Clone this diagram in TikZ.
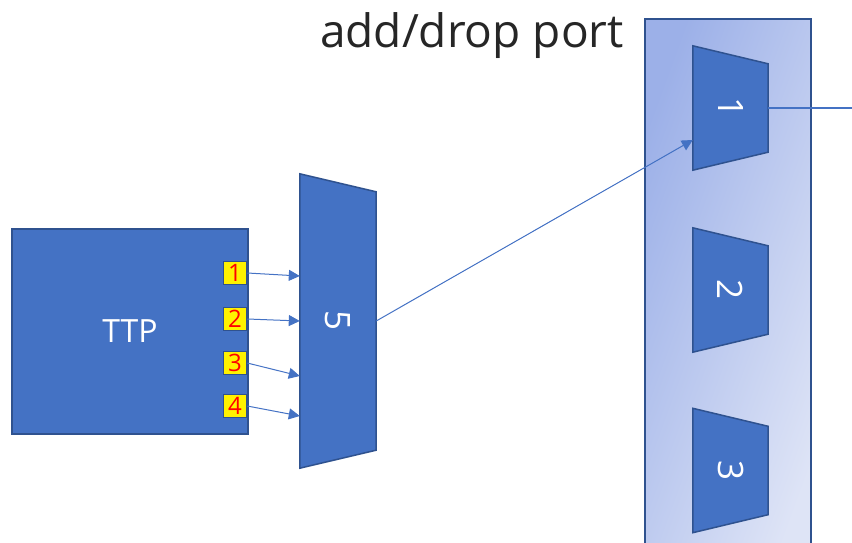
\documentclass[tikz,border=0pt]{standalone}
\usepackage{graphicx,fontspec}
\setmainfont{Open Sans}
\usetikzlibrary{arrows.meta,backgrounds}
\definecolor{boxblue}{HTML}{4472C4}
\definecolor{edgeblue}{HTML}{2F528F}
\definecolor{panlo}{HTML}{9CB0E8}
\definecolor{panhi}{HTML}{DEE4F6}
\definecolor{titlegray}{HTML}{262626}
\begin{document}
\begin{tikzpicture}[x=1pt,y=-1pt,
  blk/.style={fill=boxblue,draw=edgeblue,line width=1.5pt},
  muxbody/.style={inner sep=0pt,text=white,font=\fontsize{35}{35}\selectfont},
  portbox/.style={fill=yellow,draw=edgeblue,line width=1.5pt,minimum size=23pt,inner sep=0pt,text=red,font=\fontsize{24}{24}\selectfont},
  link/.style={boxblue,line width=1pt,-{Triangle[length=11pt,width=11pt]}}]
\useasboundingbox(0,0)rectangle(852,543);
\node[text=titlegray,font=\fontsize{46}{46}\selectfont](title)at(472,36){add/drop port};
\node[blk,minimum width=236pt,minimum height=205pt,text=white,font=\fontsize{32}{32}\selectfont](ttp)at(130,331.5){TTP};
\foreach \n/\y in {1/273,2/319,3/363,4/406}\node[portbox](p\n)at(235,\y){\n};
% the muxes: node holds the label, outline goes behind
\node[muxbody,minimum width=76pt,minimum height=294pt](m5)at(338,321){\rotatebox{-90}{5}};
\foreach \n/\y in {1/108,2/290,3/470.5}\node[muxbody,minimum width=75pt,minimum height=124pt](m\n)at(730.5,\y){\rotatebox{-90}{\n}};
\begin{pgfonlayer}{background}
\node[draw=edgeblue,line width=1.5pt,left color=panlo,right color=panhi,shading angle=70,minimum width=166pt,minimum height=560pt,inner sep=0pt](panel)at(728,299){};
\foreach \m in {m5,m1,m2,m3}\draw[blk](\m.north west)--([yshift=-18pt]\m.north east)--([yshift=18pt]\m.south east)--(\m.south west)--cycle;
\end{pgfonlayer}
\draw[link](p1.east)--([yshift=45pt]m5.west);
\draw[link](p2.east)--(m5.west);
\draw[link](p3.east)--([yshift=-55pt]m5.west);
\draw[link](p4.east)--([yshift=-95pt]m5.west);
\draw[link](m5.east)--([yshift=-32pt]m1.west);
\coordinate(out)at(852,108);
\draw[boxblue,line width=1pt](m1.east)--(out);
\end{tikzpicture}
\end{document}
